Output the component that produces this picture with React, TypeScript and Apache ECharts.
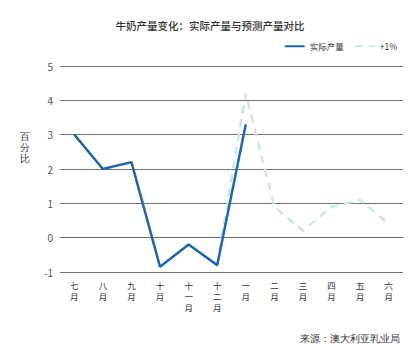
import React, { useEffect, useRef } from "react";
import * as echarts from "echarts";

const months = ["七\n月", "八\n月", "九\n月", "十\n月", "十\n一\n月", "十\n二\n月", "一\n月", "二\n月", "三\n月", "四\n月", "五\n月", "六\n月"];
const actual = [3.0, 2.0, 2.2, -0.85, -0.2, -0.8, 3.3, null, null, null, null, null];
const plusOne = [null, null, null, null, null, -0.8, 4.2, 0.9, 0.2, 0.9, 1.1, 0.4];
const titleText = "牛奶产量变化：实际产量与预测产量对比";
const sourceText = "来源：澳大利亚乳业局";
const yName = "百\n分\n比";

export default function App() {
  const ref = useRef<HTMLDivElement>(null);
  useEffect(() => {
    const chart = echarts.init(ref.current!, null, { renderer: "svg" });
    chart.setOption({
      animation: false,
      textStyle: { fontFamily: "Noto Sans CJK SC, Noto Sans, sans-serif" },
      title: {
        text: titleText,
        left: "center",
        top: 15,
        textStyle: { fontSize: 10.5, fontWeight: 500, color: "#333" },
      },
      legend: {
        right: 18,
        top: 37,
        itemWidth: 20,
        itemHeight: 10,
        itemGap: 10,
        itemStyle: { opacity: 0 },
        textStyle: { fontSize: 8.5, color: "#333" },
        data: [
          { name: "实际产量" },
          { name: "+1%" },
        ],
      },
      grid: { left: 60, right: 17, top: 66, bottom: 88 },
      xAxis: {
        type: "category",
        data: months,
        boundaryGap: true,
        axisLine: { lineStyle: { color: "#666", width: 1 } },
        axisTick: { show: false },
        axisLabel: { fontSize: 8.5, lineHeight: 11, color: "#333", margin: 7, interval: 0 },
      },
      yAxis: {
        type: "value",
        min: -1,
        max: 5,
        interval: 1,
        axisLine: { show: false },
        axisTick: { show: false },
        axisLabel: { fontSize: 10, color: "#555", margin: 7 },
        splitLine: { lineStyle: { color: "#707070", width: 1 } },
      },
      graphic: [
        {
          type: "text",
          x: 25,
          y: 147,
          style: { text: yName, fontSize: 9.5, lineHeight: 11, fill: "#333", textAlign: "center", textVerticalAlign: "middle", font: "9.5px Noto Sans CJK SC" },
        },
        {
          type: "text",
          right: 20,
          top: 333,
          style: { text: sourceText, fontSize: 10, fill: "#333", font: "10px Noto Sans CJK SC" },
        },
      ],
      series: [
        {
          name: "实际产量",
          type: "line",
          data: actual,
          symbol: "none",
          lineStyle: { color: "#1f64ad", width: 2.5 },
          itemStyle: { color: "#1f64ad" },
          z: 3,
        },
        {
          name: "+1%",
          type: "line",
          data: plusOne,
          symbol: "none",
          lineStyle: { color: "#cce6e6", width: 2.5, type: [8, 6] },
          itemStyle: { color: "#cce6e6" },
          z: 2,
        },
      ],
    });
    return () => chart.dispose();
  }, []);
  return <div ref={ref} style={{ width: 420, height: 360, margin: -8 }} />;
}
